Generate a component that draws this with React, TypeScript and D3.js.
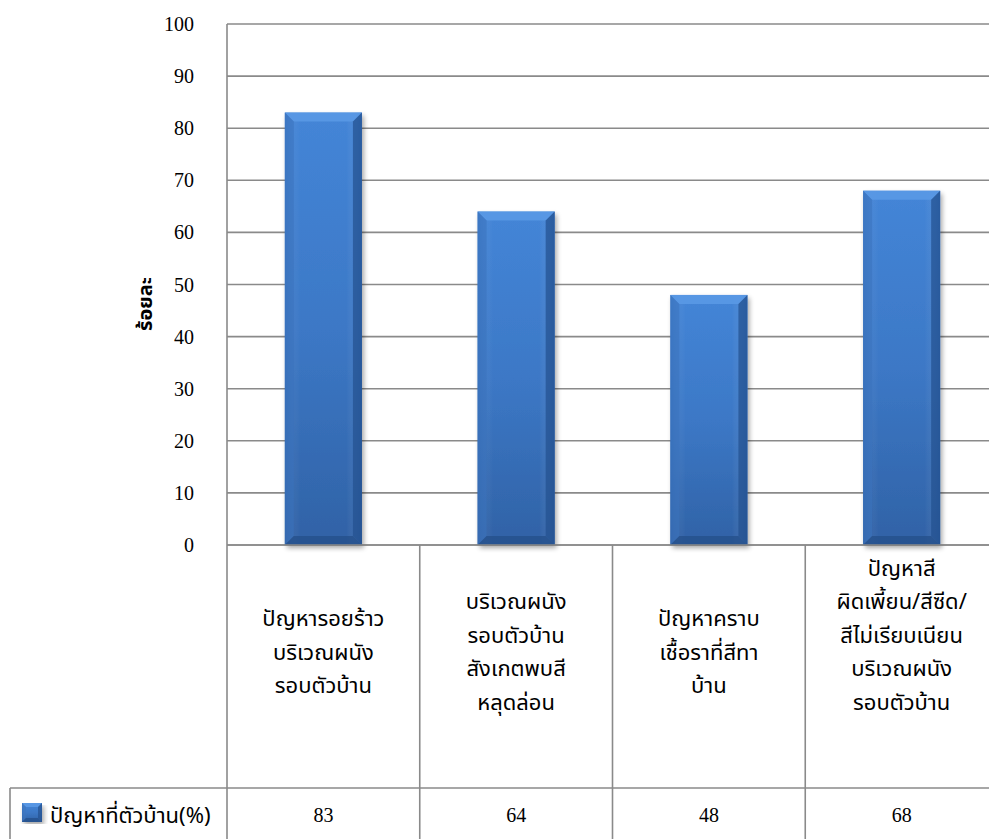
import React from "react";
import * as d3 from "d3";

// Survey: share of houses with each exterior-wall problem (%)
const categories = ["c1", "c2", "c3", "c4"];
const categoryLines: string[][] = [
  ["ปัญหารอยร้าว", "บริเวณผนัง", "รอบตัวบ้าน"],
  ["บริเวณผนัง", "รอบตัวบ้าน", "สังเกตพบสี", "หลุดล่อน"],
  ["ปัญหาคราบ", "เชื้อราที่สีทา", "บ้าน"],
  ["ปัญหาสี", "ผิดเพี้ยน/สีซีด/", "สีไม่เรียบเนียน", "บริเวณผนัง", "รอบตัวบ้าน"],
];
const values = [83, 64, 48, 68];
const seriesName = "ปัญหาที่ตัวบ้าน(%)";
const yTicks = [0, 10, 20, 30, 40, 50, 60, 70, 80, 90, 100];
const yTitle = "ร้อยละ";

const W = 989;
const H = 839;
const plotLeft = 227;
const plotRight = 998;
const plotTop = 24;
const plotBottom = 545;
const tableBottom = 788;
const legendLeft = 10;
const grid = "#8a8a8a";
const thai = "'Noto Sans Thai', 'Tahoma', 'Loma', 'Garuda', 'Waree', 'DejaVu Sans', sans-serif";
const serif = "'Liberation Serif', 'Times New Roman', serif";

function BevelBar({ x, y, w, h, b }: { x: number; y: number; w: number; h: number; b: number }) {
  const bb = Math.min(b, h / 2, w / 2);
  return (
    <g>
      <rect x={x} y={y} width={w} height={h} fill="url(#barFill)" filter="url(#barShadow)" />
      <rect x={x} y={y} width={w} height={h} fill="url(#barSide)" />
      {/* top bevel */}
      <polygon
        points={`${x},${y} ${x + w},${y} ${x + w - bb},${y + bb} ${x + bb},${y + bb}`}
        fill="#5a9ae6"
        opacity={0.85}
      />
      {/* left bevel */}
      <polygon
        points={`${x},${y} ${x + bb},${y + bb} ${x + bb},${y + h - bb} ${x},${y + h}`}
        fill="#3a72bd"
        opacity={0.55}
      />
      {/* right bevel */}
      <polygon
        points={`${x + w},${y} ${x + w - bb},${y + bb} ${x + w - bb},${y + h - bb} ${x + w},${y + h}`}
        fill="#22508f"
        opacity={0.7}
      />
      {/* bottom bevel */}
      <polygon
        points={`${x},${y + h} ${x + bb},${y + h - bb} ${x + w - bb},${y + h - bb} ${x + w},${y + h}`}
        fill="#244f8a"
        opacity={0.75}
      />
    </g>
  );
}

export default function App() {
  const y = d3.scaleLinear().domain([0, 100]).range([plotBottom, plotTop]);
  const x = d3
    .scaleBand<string>()
    .domain(categories)
    .range([plotLeft, plotRight])
    .paddingInner(0.6)
    .paddingOuter(0.3);
  const step = x.step();
  const colLeft = (i: number) => plotLeft + i * step;
  const lineGap = 33.5;

  return (
    <div style={{ position: "absolute", left: 0, top: 0 }}>
      <svg width={W} height={H} style={{ display: "block", background: "#fff" }}>
        <defs>
          <linearGradient id="barFill" x1="0" y1="0" x2="0" y2="1">
            <stop offset="0" stopColor="#4485d7" />
            <stop offset="0.5" stopColor="#3c78c6" />
            <stop offset="1" stopColor="#3062a6" />
          </linearGradient>
          <linearGradient id="barSide" x1="0" y1="0" x2="1" y2="0">
            <stop offset="0" stopColor="#1d4a86" stopOpacity={0.15} />
            <stop offset="0.2" stopColor="#ffffff" stopOpacity={0.0} />
            <stop offset="0.8" stopColor="#ffffff" stopOpacity={0.0} />
            <stop offset="1" stopColor="#1d4a86" stopOpacity={0.2} />
          </linearGradient>
          <filter id="barShadow" x="-20%" y="-5%" width="150%" height="115%">
            <feGaussianBlur in="SourceAlpha" stdDeviation="2.5" />
            <feOffset dx="2" dy="3" result="off" />
            <feComponentTransfer>
              <feFuncA type="linear" slope="0.35" />
            </feComponentTransfer>
            <feMerge>
              <feMergeNode />
              <feMergeNode in="SourceGraphic" />
            </feMerge>
          </filter>
        </defs>

        {/* horizontal gridlines */}
        {yTicks.map((t) => (
          <line
            key={`g${t}`}
            x1={plotLeft}
            x2={W}
            y1={y(t)}
            y2={y(t)}
            stroke={grid}
            strokeWidth={1.6}
          />
        ))}

        {/* y tick labels */}
        {yTicks.map((t) => (
          <text
            key={`t${t}`}
            x={194}
            y={y(t)}
            dy="0.35em"
            textAnchor="end"
            fontFamily={serif}
            fontSize={20}
            fill="#000"
          >
            {t}
          </text>
        ))}

        {/* y axis title */}
        <text
          transform={`translate(152, 304) rotate(-90)`}
          textAnchor="middle"
          fontFamily={thai}
          fontWeight="bold"
          fontSize={20}
          fill="#000"
        >
          {yTitle}
        </text>

        {/* bars */}
        {values.map((v, i) => (
          <BevelBar
            key={`b${i}`}
            x={x(categories[i]) as number}
            y={y(v)}
            w={x.bandwidth()}
            h={y(0) - y(v)}
            b={9}
          />
        ))}

        {/* data table grid */}
        <line x1={plotLeft} x2={plotLeft} y1={plotTop} y2={H} stroke={grid} strokeWidth={1.6} />
        {categories.map((c, i) =>
          i === 0 ? null : (
            <line
              key={`v${c}`}
              x1={colLeft(i)}
              x2={colLeft(i)}
              y1={plotBottom}
              y2={H}
              stroke={grid}
              strokeWidth={1.6}
            />
          )
        )}
        <line x1={plotLeft} x2={W} y1={plotBottom} y2={plotBottom} stroke={grid} strokeWidth={1.6} />
        <line x1={legendLeft} x2={W} y1={tableBottom} y2={tableBottom} stroke={grid} strokeWidth={1.6} />
        <line x1={legendLeft} x2={legendLeft} y1={tableBottom} y2={H} stroke={grid} strokeWidth={1.6} />

        {/* category labels */}
        {categoryLines.map((lines, i) => {
          const n = lines.length;
          const first = n <= 4 ? 652 - ((n - 1) * lineGap) / 2 : 568;
          const cx = colLeft(i) + step / 2;
          return (
            <g key={`cl${i}`}>
              {lines.map((ln, j) => (
                <text
                  key={j}
                  x={cx}
                  y={first + j * lineGap}
                  dy="0.35em"
                  textAnchor="middle"
                  fontFamily={thai}
                  fontSize={22}
                  fill="#000"
                >
                  {ln}
                </text>
              ))}
            </g>
          );
        })}

        {/* values row */}
        {values.map((v, i) => (
          <text
            key={`vv${i}`}
            x={colLeft(i) + step / 2}
            y={815}
            dy="0.35em"
            textAnchor="middle"
            fontFamily={serif}
            fontSize={20}
            fill="#000"
          >
            {v}
          </text>
        ))}

        {/* legend key */}
        <BevelBar x={22} y={803} w={20} h={19} b={4} />
        <text x={50} y={815} dy="0.35em" fontFamily={thai} fontSize={22} fill="#000">
          {seriesName}
        </text>
      </svg>
    </div>
  );
}
